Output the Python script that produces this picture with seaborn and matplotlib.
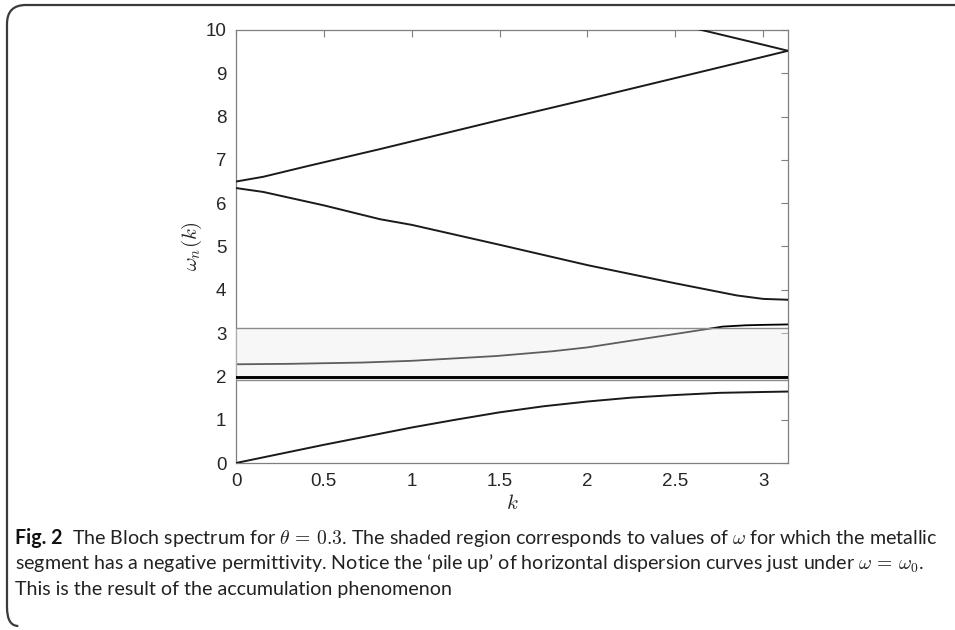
import numpy as np
import pandas as pd
import seaborn as sns
import matplotlib.pyplot as plt
from matplotlib.path import Path
from matplotlib.patches import PathPatch

# dispersion curves
k_acoustic = [0, 0.25, 0.5, 0.75, 1.0, 1.25, 1.5, 1.75, 2.0, 2.25, 2.5, 2.75, 3.0, np.pi]
w_acoustic = [0, 0.21, 0.42, 0.62, 0.82, 1.0, 1.17, 1.31, 1.42, 1.51, 1.57, 1.62, 1.64, 1.65]

k_pile = [0, np.pi]
w_pile = [1.955, 1.965, 1.975, 1.985]

k_mid = [0, 0.3, 0.72, 1.0, 1.48, 1.8, 2.0, 2.24, 2.5, 2.66, 2.77, 2.9, 3.0, np.pi]
w_mid = [2.28, 2.29, 2.32, 2.36, 2.47, 2.58, 2.67, 2.82, 2.98, 3.08, 3.15, 3.18, 3.19, 3.2]

k_down = [0, 0.155, 0.5, 0.82, 1.0, 1.5, 2.0, 2.5, 2.85, 3.0, np.pi]
w_down = [6.35, 6.26, 5.95, 5.63, 5.5, 5.04, 4.57, 4.15, 3.87, 3.79, 3.77]

k_up = [0, 0.155, 0.4, 0.82, 1.5, 2.0, 2.5, 3.0, np.pi]
w_up = [6.5, 6.61, 6.85, 7.25, 7.92, 8.4, 8.89, 9.38, 9.52]

k_top = [2.5, 2.65, 3.0, np.pi]
w_top = [10.15, 10.0, 9.66, 9.52]

# shaded region: negative permittivity
shade_lo, shade_hi = 1.92, 3.12

rows = []
def add(name, ks, ws):
    for a, b in zip(ks, ws):
        rows.append((name, a, b))

add('acoustic', k_acoustic, w_acoustic)
add('down', k_down, w_down)
add('up', k_up, w_up)
add('top', k_top, w_top)
df = pd.DataFrame(rows, columns=['band', 'k', 'omega'])

pile_rows = []
for i, w in enumerate(w_pile):
    for a in k_pile:
        pile_rows.append((f'pile{i}', a, w))
df_pile = pd.DataFrame(pile_rows, columns=['band', 'k', 'omega'])
df_mid = pd.DataFrame({'k': k_mid, 'omega': w_mid})

sns.set_style('white')
plt.rcParams['font.family'] = ['Liberation Sans', 'DejaVu Sans']
plt.rcParams['mathtext.fontset'] = 'cm'

fig = plt.figure(figsize=(9.55, 6.3), dpi=100)
ax = fig.add_axes([236 / 955, 1 - 463 / 630, 552 / 955, 433 / 630])

sns.lineplot(data=df_mid, x='k', y='omega', color='black', lw=1.3,
             estimator=None, sort=False, ax=ax, zorder=2)
ax.fill_between([0, np.pi], shade_lo, shade_hi, color='#ececec', alpha=0.4,
                lw=0, zorder=3)
ax.axhline(shade_lo, color='#8c8c8c', lw=1.0, zorder=3)
ax.axhline(shade_hi, color='#8c8c8c', lw=1.0, zorder=3)
sns.lineplot(data=df_pile, x='k', y='omega', units='band', color='black',
             lw=1.1, estimator=None, sort=False, ax=ax, zorder=4)
sns.lineplot(data=df, x='k', y='omega', units='band', color='#1a1a1a',
             lw=1.4, estimator=None, sort=False, ax=ax, zorder=4)

ax.set_xlim(0, np.pi)
ax.set_ylim(0, 10)
ax.set_xticks([0, 0.5, 1, 1.5, 2, 2.5, 3])
ax.set_xticklabels(['0', '0.5', '1', '1.5', '2', '2.5', '3'])
ax.set_yticks(range(11))
ax.tick_params(direction='in', top=True, right=True, length=5, width=0.8,
               color='#7f7f7f', labelsize=13.5, labelcolor='#262626', pad=7)
for s in ax.spines.values():
    s.set_color('#7f7f7f')
    s.set_linewidth(0.9)
ax.set_xlabel(r'$k$', fontsize=15, color='#262626', labelpad=3)
ax.set_ylabel(r'$\omega_n(k)$', fontsize=15, color='#262626', labelpad=1)

# journal frame: top rule and rounded left edge
x0, y0, y1, r = 7 / 955, 1 - 5 / 630, 1 - 626 / 630, 0.03
verts = [(1.0, y0), (x0 + r * 630 / 955, y0), (x0, y0), (x0, y0 - r),
         (x0, y1 + r), (x0, y1), (x0 + r * 630 / 955 * 0.6, y1)]
codes = [Path.MOVETO, Path.LINETO, Path.CURVE3, Path.CURVE3,
         Path.LINETO, Path.CURVE3, Path.CURVE3]
fig.add_artist(PathPatch(Path(verts, codes), fill=False, lw=1.6,
                         edgecolor='#3a3a3a', transform=fig.transFigure))

# caption, font size fitted so the first line ends near the right edge
cap = ['Lato', 'DejaVu Sans']
fs = 13.0
t_fig = fig.text(15 / 955, 1 - 544 / 630, 'Fig. 2', fontsize=fs,
                 fontweight='bold', family=cap, va='baseline', color='#111111')
t1 = fig.text(82 / 955, 1 - 544 / 630,
              r'The Bloch spectrum for $\theta\,=\,0.3$. The shaded region corresponds '
              r'to values of $\omega$ for which the metallic',
              fontsize=fs, family=cap, va='baseline', color='#222222')
t2 = fig.text(15 / 955, 1 - 570 / 630,
              r'segment has a negative permittivity. Notice the ‘pile up’ of horizontal '
              r'dispersion curves just under $\omega\,=\,\omega_0$.',
              fontsize=fs, family=cap, va='baseline', color='#222222')
t3 = fig.text(15 / 955, 1 - 595 / 630,
              'This is the result of the accumulation phenomenon',
              fontsize=fs, family=cap, va='baseline', color='#222222')

renderer = fig.canvas.get_renderer()
w1 = t1.get_window_extent(renderer).width
scale = (946 - 82) / w1
for t in (t_fig, t1, t2, t3):
    t.set_fontsize(fs * scale)
wf = t_fig.get_window_extent(renderer).width
t1.set_x((15 + wf + 10) / 955)

fig.savefig('out.png', dpi=100)
